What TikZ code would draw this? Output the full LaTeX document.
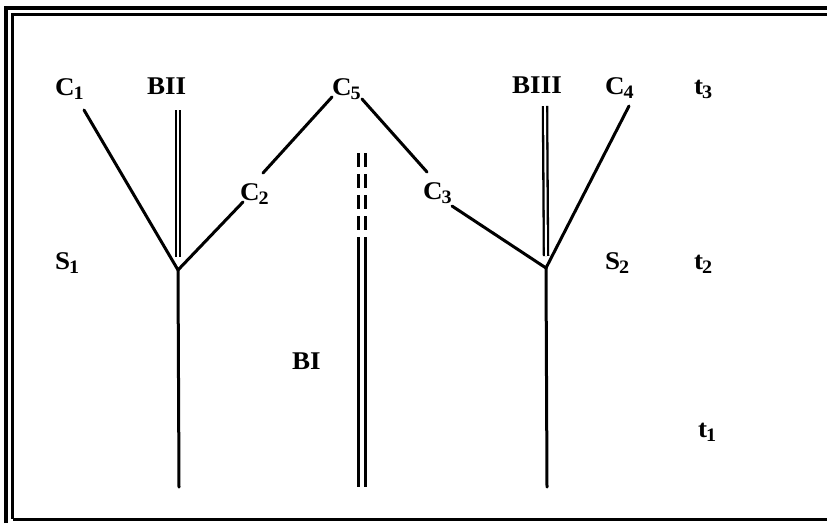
\documentclass[tikz,border=0pt]{standalone}
\usepackage{fontspec}
\setmainfont{Liberation Serif}
\newfontfamily\lblfont[FakeStretch=1.06]{Liberation Serif}
\newcommand\lsub[2]{#1\kern-1pt\raisebox{-4pt}{\fontsize{19}{19}\selectfont #2}}
\begin{document}
\begin{tikzpicture}[x=1pt,y=-1pt,
  lab/.style={anchor=base west, inner sep=0pt, font=\lblfont\bfseries\fontsize{25.5}{25.5}\selectfont},
  ln/.style={line width=3pt, line cap=round},
  dl/.style={double, line width=2.3pt, double distance=1.9pt},
  bl/.style={line width=3pt}]
\useasboundingbox (0,0) rectangle (827,523);
% frame
\draw[line width=4pt] (6,523) -- (6,7.5) -- (827,7.5);
\draw[line width=2.5pt] (12.5,519) -- (12.5,14.5) -- (827,14.5);
\draw[line width=3pt] (12.5,519.5) -- (827,519.5);
% labels
\node[lab] (C1) at (55,95) {\lsub{C}{1}};
\node[lab] (BII) at (147,94) {BII};
\node[lab] (C5) at (332,95) {\lsub{C}{5}};
\node[lab] (BIII) at (512,93) {BIII};
\node[lab] (C4) at (605,94) {\lsub{C}{4}};
\node[lab] (t3) at (694,94) {\lsub{t}{3}};
\node[lab] (C2) at (240,200) {\lsub{C}{2}};
\node[lab] (C3) at (423,199) {\lsub{C}{3}};
\node[lab] (S1) at (55,269) {\lsub{S}{1}};
\node[lab] (S2) at (605,269) {\lsub{S}{2}};
\node[lab] (t2) at (694,269) {\lsub{t}{2}};
\node[lab] (BI) at (292,369) {BI};
\node[lab] (t1) at (698,437) {\lsub{t}{1}};
% coordinates
\coordinate (j1) at (178,270);
\coordinate (j2) at (546,268);
\coordinate (c1e) at (84,110);
\coordinate (c2a) at (243,202);
\coordinate (c2b) at (263,173);
\coordinate (c5a) at (332,97);
\coordinate (c5b) at (362,99);
\coordinate (c3a) at (427,172);
\coordinate (c3b) at (452,206);
\coordinate (c4e) at (629,106);
\coordinate (b1) at (179,487);
\coordinate (b2) at (547,487);
\coordinate (bIIt) at (178,110);
\coordinate (bIIb) at (178,257);
\coordinate (bIIIt) at (545,106);
\coordinate (bIIIb) at (546,256);
% tree 1
\draw[ln] (c1e) -- (j1) -- (c2a);
\draw[ln] (c2b) -- (c5a);
\draw[ln] (j1) -- (b1);
\draw[dl] (bIIt) -- (bIIb);
% tree 2
\draw[ln] (c5b) -- (c3a);
\draw[ln] (c3b) -- (j2) -- (c4e);
\draw[ln] (j2) -- (b2);
\draw[dl] (bIIIt) -- (bIIIb);
% BI lineage
\coordinate (bIa) at (358,153);
\coordinate (bIb) at (365,153);
\coordinate (bIa2) at (358,232);
\coordinate (bIb2) at (365,232);
\coordinate (bIa3) at (358,237);
\coordinate (bIb3) at (365,237);
\coordinate (bIa4) at (358,487);
\coordinate (bIb4) at (365,487);
\draw[bl, dash pattern=on 14pt off 7pt] (bIa) -- (bIa2);
\draw[bl, dash pattern=on 14pt off 7pt] (bIb) -- (bIb2);
\draw[bl] (bIa3) -- (bIa4);
\draw[bl] (bIb3) -- (bIb4);
\end{tikzpicture}
\end{document}
